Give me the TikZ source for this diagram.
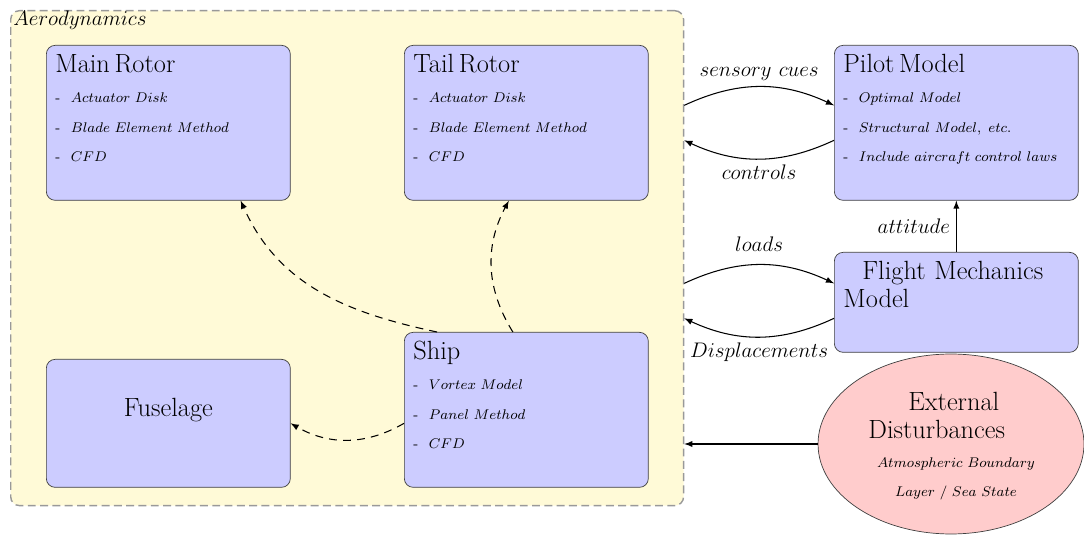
\documentclass[tikz,border=0pt]{standalone}
\usepackage{amsmath}
\usepackage{amssymb}
\usepackage{xcolor}
\usepackage{tikz}
\usetikzlibrary{shapes.geometric, arrows}
\definecolor{AeroYellow}{RGB}{255,250,215}
\definecolor{ModelBlue}{RGB}{204,204,255}
\definecolor{DistRed}{RGB}{255,204,204}
\newcommand{\mitem}[1]{\mbox{-\hspace{0.75em}$#1$}}
\newcommand{\boxtitle}{\fontsize{15}{18}\selectfont}
\newcommand{\itemsize}{\fontsize{8}{9.5}\selectfont}
\newcommand{\flowsize}{\fontsize{12.8}{15}\selectfont}
\tikzset{
    modelbox/.style={draw=black!75, fill=ModelBlue, rounded corners=5pt,
        anchor=north west, text width=4.52cm, inner sep=0.18cm, align=left,
        font=\itemsize, text height=0.36cm, text depth=2.38cm},
    plainbox/.style={draw=black!75, fill=ModelBlue, rounded corners=5pt,
        anchor=north west, minimum width=4.88cm, inner sep=0.18cm,
        text height=0.96cm, text depth=1.24cm, font=\boxtitle},
    aerobox/.style={draw=black!40, fill=AeroYellow, rounded corners=5pt,
        line width=0.8pt, dash pattern=on 4.5pt off 2.5pt},
    distell/.style={ellipse, draw=black!75, fill=DistRed, inner sep=0,
        minimum width=5.32cm, minimum height=3.6cm},
    flow/.style={->, semithick},
    dashflow/.style={->, semithick, dash pattern=on 4.5pt off 3.5pt}
}

\begin{document}
\begin{tikzpicture}[x=0.02cm, y=0.02cm, >=latex]
\useasboundingbox (0,0) rectangle (1084,534);

% Aerodynamics group
\node[aerobox, anchor=north west, minimum width=13.46cm, minimum height=9.9cm] (aero) at (10,524) {};
\node[anchor=base west, inner sep=0, font=\fontsize{13}{16}\selectfont] (aerotitle) at (13,508) {$Aerodynamics$};

% Nodes
\node[modelbox] (main) at (46,489) {{\boxtitle Main Rotor}\\[7.5pt] \mitem{Actuator\ Disk}\\[7.5pt] \mitem{Blade\ Element\ Method}\\[7.5pt] \mitem{CFD}};
\node[modelbox] (tail) at (404,489) {{\boxtitle Tail Rotor}\\[7.5pt] \mitem{Actuator\ Disk}\\[7.5pt] \mitem{Blade\ Element\ Method}\\[7.5pt] \mitem{CFD}};
\node[plainbox] (fuselage) at (46,175) {Fuselage};
\node[modelbox] (ship) at (404,202) {{\boxtitle Ship}\\[7.5pt] \mitem{Vortex\ Model}\\[7.5pt] \mitem{Panel\ Method}\\[7.5pt] \mitem{CFD}};

\node[modelbox] (pilot) at (834,489) {{\boxtitle Pilot Model}\\[7.5pt] \mitem{Optimal\ Model}\\[7.5pt] \mitem{Structural\ Model,\ etc.}\\[7.5pt] \mitem{Include\ aircraft\ control\ laws}};
\node[modelbox, font=\boxtitle, text depth=1.28cm] (fm) at (834,282) {\hspace*{0.38cm}Flight Mechanics\\[-2pt]Model};

\node[distell] (ext) at (951,90) {};
\node[anchor=base west, text width=4cm, align=left, inner sep=0, font=\boxtitle] (exttitle) at (868,124) {\hspace*{0.8cm}External\\[-2pt]Disturbances};
\node[anchor=base, text width=4cm, align=center, inner sep=0, font=\itemsize] (extnote) at (956,67) {$Atmospheric\ Boundary$\\[7.5pt]$Layer\ /\ Sea\ State$};

% Arrows
\draw[flow] ([yshift=0.35cm]pilot.west -| aero.east) to[bend left=25] node[above, font=\flowsize] (cues) {$sensory\ cues$} ([yshift=0.35cm]pilot.west);
\draw[flow] ([yshift=-0.35cm]pilot.west) to[bend left=25] node[below, font=\flowsize] (ctrl) {$controls$} ([yshift=-0.35cm]pilot.west -| aero.east);
\draw[flow] ([yshift=0.38cm]fm.west -| aero.east) to[bend left=25] node[above=4pt, font=\flowsize] (loads) {$loads$} ([yshift=0.38cm]fm.west);
\draw[flow] ([yshift=-0.32cm]fm.west) to[bend left=25] node[below, font=\flowsize] (disp) {$Displacements$} ([yshift=-0.32cm]fm.west -| aero.east);
\draw[flow] (fm.north) -- node[left, font=\flowsize] (att) {$attitude$} (pilot.south);
\draw[flow] (ext.west) -- (ext.west -| aero.east);

\draw[dashflow] ([xshift=0.66cm]ship.north west) to[out=168, in=-66] ([xshift=-1cm]main.south east);
\draw[dashflow] ([xshift=-0.27cm]ship.north) to[bend left=30] ([xshift=-0.35cm]tail.south);
\draw[dashflow] ([yshift=-0.27cm]ship.west) to[bend left=30] (fuselage.east);
\end{tikzpicture}
\end{document}
